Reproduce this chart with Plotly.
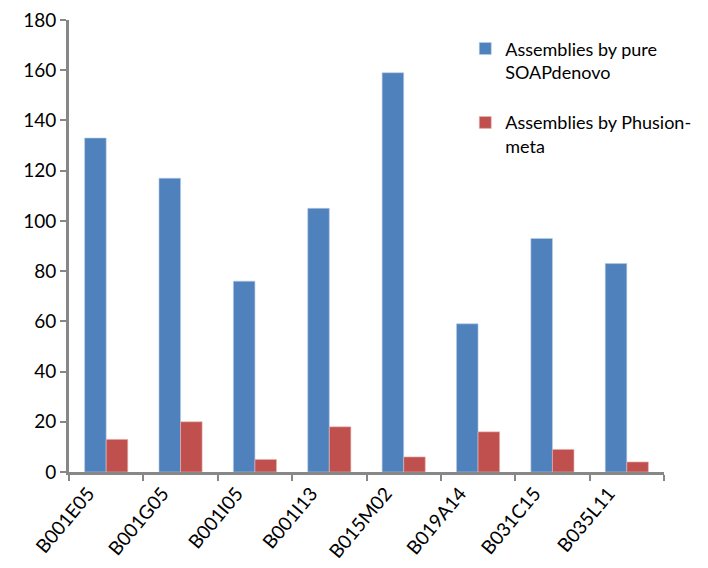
import plotly.graph_objects as go

# Clone names and assembly counts per method
clones = ["B001E05", "B001G05", "B001I05", "B001I13", "B015M02", "B019A14", "B031C15", "B035L11"]
soapdenovo = [133, 117, 76, 105, 159, 59, 93, 83]
phusion_meta = [13, 20, 5, 18, 6, 16, 9, 4]
y_ticks = [0, 20, 40, 60, 80, 100, 120, 140, 160, 180]

FONT = "Lato, Carlito, Calibri, sans-serif"
AXIS_GREY = "#878787"

fig = go.Figure()
fig.add_trace(go.Bar(
    x=clones, y=soapdenovo,
    name="Assemblies by pure<br>SOAPdenovo",
    legendgroup="a",
    marker=dict(color="#4F81BD", line=dict(color="#B9CDE5", width=0.6)),
))
fig.add_trace(go.Bar(
    x=clones, y=phusion_meta,
    name="Assemblies by Phusion-<br>meta",
    legendgroup="b",
    marker=dict(color="#C0504D", line=dict(color="#E6B9B8", width=0.6)),
))

fig.update_layout(
    width=708, height=568,
    margin=dict(l=69, r=41, t=20, b=96),
    paper_bgcolor="white", plot_bgcolor="white",
    barmode="group", bargap=0.42, bargroupgap=0,
    font=dict(family=FONT, color="#000000", size=18),
    legend=dict(
        x=0.666, y=0.977, xanchor="left", yanchor="top",
        font=dict(family=FONT, size=18, color="#000000"),
        valign="top", traceorder="grouped", tracegroupgap=24,
        bgcolor="rgba(0,0,0,0)",
    ),
    showlegend=True,
)
fig.update_yaxes(
    range=[0, 180], tickvals=y_ticks, ticktext=[str(v) for v in y_ticks],
    showgrid=False, zeroline=False, automargin=False,
    showline=True, linecolor=AXIS_GREY, linewidth=3,
    ticks="outside", ticklen=6, tickwidth=2, tickcolor=AXIS_GREY,
    tickfont=dict(size=19, family=FONT, color="#000000"),
)
fig.update_xaxes(
    showgrid=False, automargin=False,
    showline=True, linecolor=AXIS_GREY, linewidth=3,
    ticks="outside", ticklen=6, tickwidth=2, tickcolor=AXIS_GREY,
    tickson="boundaries", tickangle=-50, ticklabelshift=-18,
    tickfont=dict(size=19, family=FONT, color="#000000"),
)

fig.write_html("out.html")
